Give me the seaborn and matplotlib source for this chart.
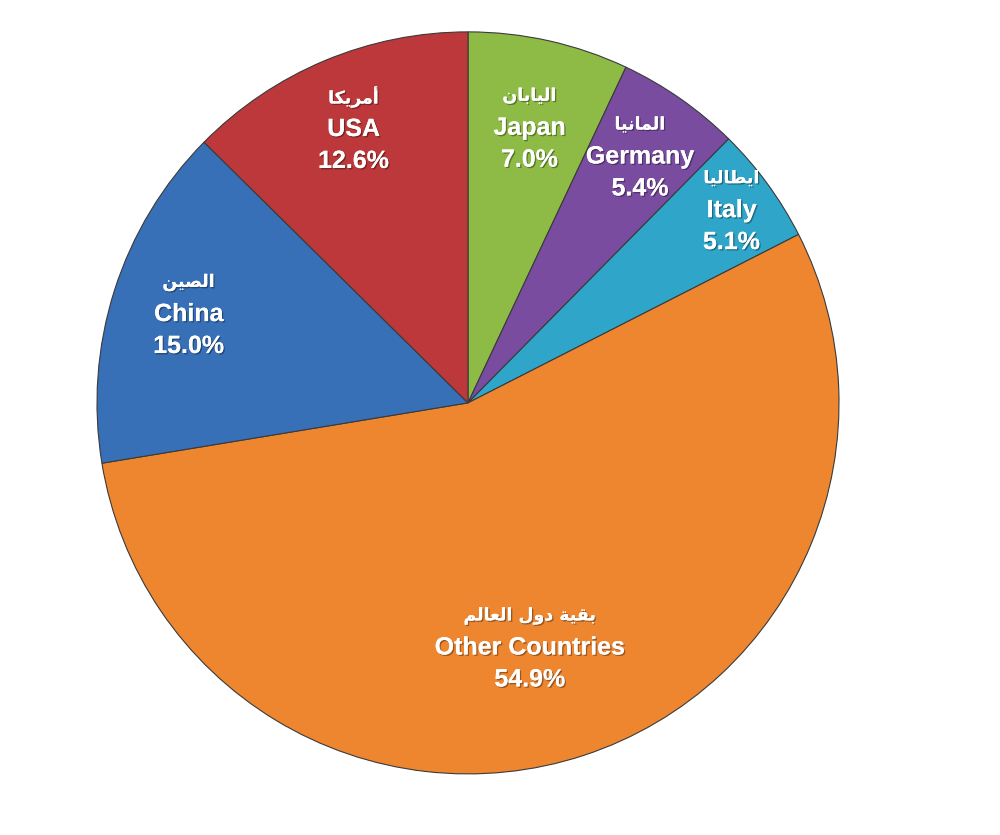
import matplotlib
matplotlib.use('Agg')
import matplotlib.pyplot as plt
import matplotlib.patheffects as pe
import numpy as np
import seaborn as sns

# Data (clockwise from the top)
countries = ['Japan', 'Germany', 'Italy', 'Other Countries', 'China', 'USA']
countries_ar = ['اليابان', 'المانيا', 'ايطاليا', 'بقية دول العالم', 'الصين', 'أمريكا']
shares = [7.0, 5.4, 5.1, 54.9, 15.0, 12.6]
colors = ['#8DBB45', '#7A4C9F', '#2FA6C9', '#EE8630', '#3770B7', '#BD383A']

# label placement: fraction of radius and small angular nudge (deg)
label_r = [0.76, 0.81, 0.88, 0.68, 0.79, 0.80]
label_dang = [0, 0, 0, -4, 0, 0]


# matplotlib does no Arabic shaping, so pick presentation forms by hand
FORMS = {'ا': 0xFE8D, 'أ': 0xFE83, 'ة': 0xFE93, 'د': 0xFEA9, 'ر': 0xFEAD, 'و': 0xFEED,
         'ب': 0xFE8F, 'ص': 0xFEB9, 'ط': 0xFEC1, 'ع': 0xFEC9, 'ق': 0xFED5, 'ك': 0xFED9,
         'ل': 0xFEDD, 'م': 0xFEE1, 'ن': 0xFEE5, 'ي': 0xFEF1}
DUAL = set('بصطعقكلمني')


def shape(s):
    out = []
    for i, c in enumerate(s):
        if c not in FORMS:
            out.append(c)
            continue
        prev_j = i > 0 and s[i - 1] in DUAL
        next_j = c in DUAL and i + 1 < len(s) and s[i + 1] in FORMS
        k = 3 if (prev_j and next_j) else 1 if prev_j else 2 if next_j else 0
        out.append(chr(FORMS[c] + k))
    return ''.join(out[::-1])


sns.set_style('white')
plt.rcParams['font.family'] = ['Liberation Sans', 'DejaVu Sans']

fig = plt.figure(figsize=(10, 8.35), dpi=100)
ax = fig.add_axes([0.097, 0.073, 0.742, 0.889])

wedges, _ = ax.pie(shares, colors=colors, startangle=90, counterclock=False,
                   wedgeprops=dict(edgecolor='#3a3a3a', linewidth=0.8))
ax.set_xlim(-1, 1)
ax.set_ylim(-1, 1)
ax.axis('off')

shadow = [pe.withSimplePatchShadow(offset=(1, -1), shadow_rgbFace='black', alpha=0.35), pe.Normal()]

for w, name, name_ar, val, r, da in zip(wedges, countries, countries_ar, shares, label_r, label_dang):
    ang = np.deg2rad((w.theta1 + w.theta2) / 2 + da)
    x, y = r * np.cos(ang), r * np.sin(ang)
    ax.annotate(shape(name_ar), (x, y), xytext=(0, 23), textcoords='offset points',
                ha='center', va='center', color='white', fontsize=12.5, fontweight='bold',
                family=['DejaVu Sans'], path_effects=shadow)
    ax.annotate(name, (x, y), ha='center', va='center', color='white',
                fontsize=18, fontweight='bold', path_effects=shadow)
    ax.annotate(f'{val:.1f}%', (x, y), xytext=(0, -23), textcoords='offset points',
                ha='center', va='center', color='white', fontsize=18, fontweight='bold',
                path_effects=shadow)

fig.savefig('out.png', dpi=100, facecolor='white')
